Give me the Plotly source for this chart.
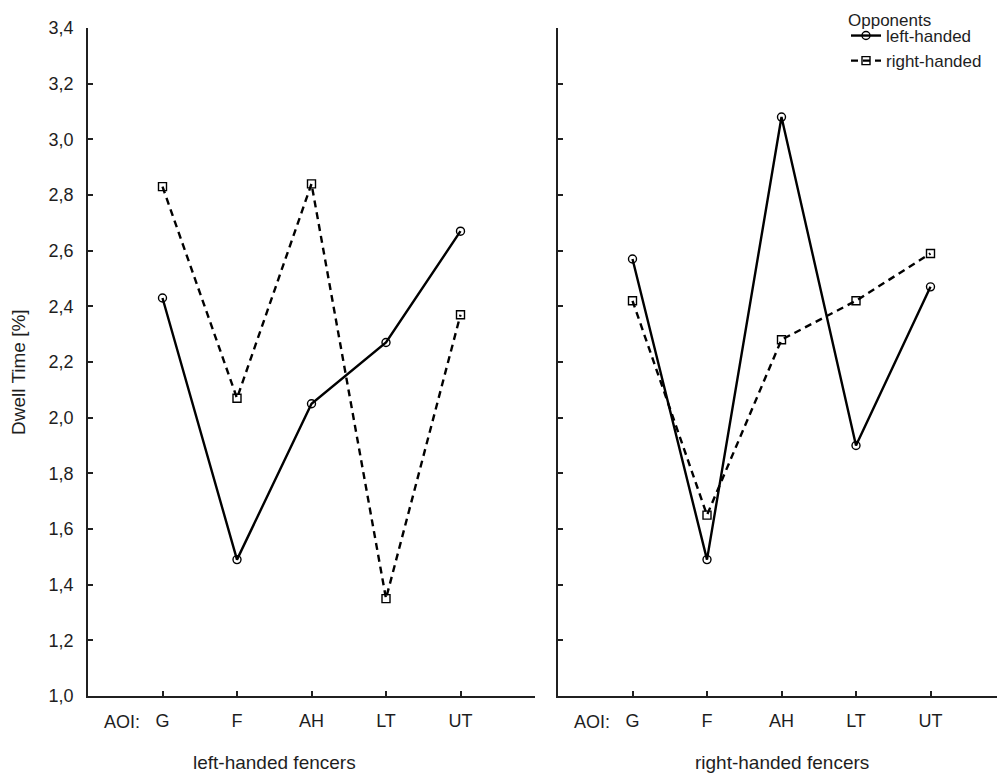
import plotly.graph_objects as go
from plotly.subplots import make_subplots

# ---- data ----
aoi_labels = ["G", "F", "AH", "LT", "UT"]
aoi_pos = [0, 1, 2, 3, 4]
panel_titles = ["left-handed fencers", "right-handed fencers"]
series_names = ["left-handed", "right-handed"]
legend_title = "Opponents"

lh_fencers_vs_lh = [2.43, 1.49, 2.05, 2.27, 2.67]
lh_fencers_vs_rh = [2.83, 2.07, 2.84, 1.35, 2.37]
rh_fencers_vs_lh = [2.57, 1.49, 3.08, 1.90, 2.47]
rh_fencers_vs_rh = [2.42, 1.65, 2.28, 2.42, 2.59]

y_ticks = [1.0, 1.2, 1.4, 1.6, 1.8, 2.0, 2.2, 2.4, 2.6, 2.8, 3.0, 3.2, 3.4]

FONT = "Liberation Sans, Arial, sans-serif"
TXT = "#1e1e1e"
FS_TICK = 18
FS_TITLE = 19
FS_LEG = 17

OFF = 8  # page body margin
W, H = 1005 - OFF, 777 - OFF
ML, MR, MT, MB = 88 - OFF, 0, 28 - OFF, 81
pw = W - ML - MR
ph = H - MT - MB

def px_x(p):
    return (p - OFF - ML) / pw

def px_y(p):
    return (H - MB - (p - OFF)) / ph

fig = make_subplots(rows=1, cols=2, shared_yaxes=False, horizontal_spacing=0.0)

panels = [(lh_fencers_vs_lh, lh_fencers_vs_rh), (rh_fencers_vs_lh, rh_fencers_vs_rh)]
for ci, (s_lh, s_rh) in enumerate(panels, start=1):
    fig.add_trace(go.Scatter(
        x=aoi_pos, y=s_lh, name=series_names[0], mode="lines+markers",
        line=dict(color="black", width=2.4, dash="solid"),
        marker=dict(symbol="circle-open", size=8, color="black", line=dict(width=1.4, color="black")),
        showlegend=(ci == 1), legendgroup="lh"), row=1, col=ci)
    fig.add_trace(go.Scatter(
        x=aoi_pos, y=s_rh, name=series_names[1], mode="lines+markers",
        line=dict(color="black", width=2.4, dash="7px,5px"),
        marker=dict(symbol="square-open", size=8, color="black", line=dict(width=1.4, color="black")),
        showlegend=(ci == 1), legendgroup="rh"), row=1, col=ci)

x_tickvals = [-1] + aoi_pos + [5]
x_ticktext = [""] + aoi_labels + [""]

axis_common = dict(showline=True, linecolor="#202020", linewidth=1.5, mirror=False,
                   showgrid=False, zeroline=False, ticks="inside", ticklen=5,
                   tickcolor="#202020", tickwidth=1.5,
                   tickfont=dict(family=FONT, size=FS_TICK, color=TXT))

dom_left = [0, px_x(535)]
dom_right = [px_x(558), 1]
for i, dom in enumerate([dom_left, dom_right], start=1):
    fig.update_xaxes(domain=dom, range=[-1, 5], tickmode="array", tickvals=x_tickvals,
                     ticktext=x_ticktext, ticklabelstandoff=8, **axis_common, row=1, col=i)
    fig.update_yaxes(range=[1.0, 3.4], tickmode="array", tickvals=y_ticks,
                     tickformat=".1f", showticklabels=(i == 1), ticklabelstandoff=9,
                     **axis_common, row=1, col=i)

annotations = []
# "AOI:" prefixes before the first tick label
for xref in ["x", "x2"]:
    annotations.append(dict(text="AOI:", xref=xref, yref="paper", x=-0.27, y=px_y(722),
                            xanchor="right", yanchor="middle", showarrow=False,
                            font=dict(family=FONT, size=FS_TICK, color=TXT)))
# panel titles below the x axes
annotations.append(dict(text=panel_titles[0], xref="paper", yref="paper", x=px_x(274), y=px_y(762),
                        xanchor="center", yanchor="middle", showarrow=False,
                        font=dict(family=FONT, size=FS_TITLE, color=TXT)))
annotations.append(dict(text=panel_titles[1], xref="paper", yref="paper", x=px_x(782), y=px_y(762),
                        xanchor="center", yanchor="middle", showarrow=False,
                        font=dict(family=FONT, size=FS_TITLE, color=TXT)))
# y axis title
annotations.append(dict(text="Dwell Time [%]", xref="paper", yref="paper", x=px_x(18), y=px_y(372),
                        xanchor="center", yanchor="middle", textangle=-90, showarrow=False,
                        font=dict(family=FONT, size=FS_TITLE, color=TXT)))
# legend title
annotations.append(dict(text=legend_title, xref="paper", yref="paper", x=px_x(846), y=px_y(9),
                        xanchor="left", yanchor="top", showarrow=False,
                        font=dict(family=FONT, size=FS_LEG, color=TXT)))

fig.update_layout(
    width=W, height=H,
    margin=dict(l=ML, r=MR, t=MT, b=MB, pad=0, autoexpand=False),
    paper_bgcolor="white", plot_bgcolor="white",
    separators=",.",
    font=dict(family=FONT, size=FS_TICK, color=TXT),
    annotations=annotations,
    legend=dict(xref="paper", yref="paper",
                x=px_x(846), y=px_y(18), xanchor="left", yanchor="top",
                bgcolor="rgba(0,0,0,0)", borderwidth=0, tracegroupgap=0,
                itemwidth=30,
                font=dict(family=FONT, size=FS_LEG, color=TXT)),
)

fig.write_html("out.html")
